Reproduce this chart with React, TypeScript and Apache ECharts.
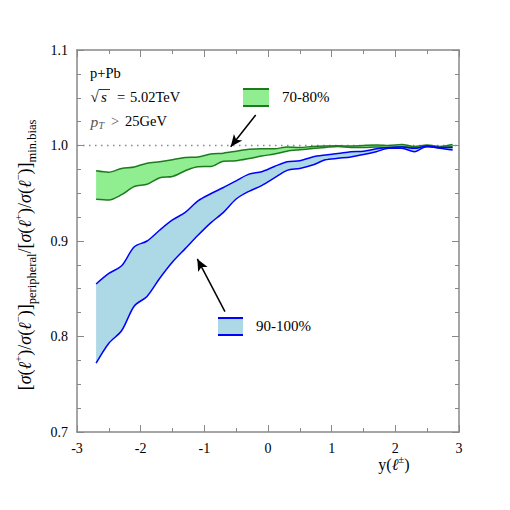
import React, { useEffect, useRef } from "react";
import * as echarts from "echarts";

const xs = [-2.7, -2.5, -2.3, -2.1, -1.9, -1.7, -1.5, -1.3, -1.1, -0.9, -0.7, -0.5, -0.3, -0.1, 0.1, 0.3, 0.5, 0.7, 0.9, 1.1, 1.3, 1.5, 1.7, 1.9, 2.1, 2.3, 2.5, 2.7, 2.9];

const green7080Upper = [0.9735, 0.972, 0.976, 0.9775, 0.9815, 0.983, 0.985, 0.9875, 0.988, 0.991, 0.992, 0.994, 0.996, 0.9965, 0.9965, 0.9985, 0.998, 0.999, 0.9995, 0.9997, 0.9995, 1.0, 1.0005, 1.0, 1.001, 0.999, 1.0005, 0.999, 1.001];
const green7080Lower = [0.9437, 0.943, 0.9485, 0.957, 0.9594, 0.9663, 0.9675, 0.9735, 0.9778, 0.978, 0.9835, 0.984, 0.9863, 0.989, 0.991, 0.994, 0.9955, 0.9968, 0.998, 0.999, 0.998, 0.998, 0.9985, 0.998, 0.999, 0.998, 0.9985, 0.998, 0.999];

const blue90100Upper = [0.855, 0.866, 0.874, 0.894, 0.9, 0.9115, 0.922, 0.93, 0.942, 0.9495, 0.956, 0.963, 0.97, 0.9725, 0.978, 0.983, 0.984, 0.988, 0.99, 0.9915, 0.9935, 0.994, 0.9965, 0.998, 0.9985, 0.997, 0.9995, 0.998, 0.998];
const blue90100Lower = [0.772, 0.793, 0.806, 0.832, 0.842, 0.861, 0.878, 0.892, 0.906, 0.919, 0.93, 0.944, 0.952, 0.958, 0.966, 0.974, 0.976, 0.9795, 0.985, 0.9866, 0.988, 0.9905, 0.9935, 0.997, 0.997, 0.9935, 0.9993, 0.997, 0.9953];

const referenceLine = [[-3, 1.0], [3, 1.0]];
const arrowGreen = [[-0.193, 1.0319], [-0.586, 0.9987]];
const arrowBlue = [[-0.676, 0.826], [-1.11, 0.8812]];

const xTicks = [-3, -2, -1, 0, 1, 2, 3];
const yTicks = [0.7, 0.8, 0.9, 1.0, 1.1];

const FONT = "Liberation Serif";
const AXIS_COLOR = "#888888";
const GREEN_LINE = "#1f7a1f";
const GREEN_FILL = "#90ee90";
const BLUE_LINE = "#0000ff";
const BLUE_FILL = "#add8e6";

// data items as [y, x] so that the first (stacked) dimension is the y value
function zipYX(x: number[], y: number[]) {
  return x.map((v, i) => [y[i], v]);
}

export default function App() {
  const ref = useRef<HTMLDivElement>(null);
  useEffect(() => {
    if (!ref.current) return;
    const chart = echarts.init(ref.current, null, { renderer: "svg" });

    const axisCommon = {
      type: "value" as const,
      axisLine: { show: true, onZero: false, lineStyle: { color: AXIS_COLOR, width: 1.5 } },
      axisTick: { show: true, inside: true, length: 7, lineStyle: { color: AXIS_COLOR, width: 1 } },
      splitLine: { show: false },
      minorSplitLine: { show: false },
    };

    const gDiff = green7080Upper.map((v, i) => v - green7080Lower[i]);
    const bDiff = blue90100Upper.map((v, i) => v - blue90100Lower[i]);

    const bandSeries = (name: string, stack: string, y: number[], color: string, fill: string | null, z: number) => {
      const s: any = {
        name,
        type: "line",
        stack,
        data: zipYX(xs, y),
        encode: { x: 1, y: 0 },
        symbol: "none",
        smooth: 0.3,
        z,
        lineStyle: { color, width: 1.5 },
      };
      if (fill) s.areaStyle = { color: fill, opacity: 1 };
      return s;
    };

    const txt = (text: string, x: number, y: number, size: number, extra: any = {}) => ({
      type: "text",
      x,
      y,
      style: { text, fontFamily: FONT, fontSize: size, fill: "#000", verticalAlign: "middle", ...extra },
    });

    const option: any = {
      animation: false,
      backgroundColor: "#ffffff",
      grid: { left: 77, top: 50, width: 382, height: 382, containLabel: false },
      xAxis: [
        {
          ...axisCommon,
          min: xTicks[0],
          max: xTicks[xTicks.length - 1],
          interval: 1,
          position: "bottom",
          minorTick: { show: true, splitNumber: 2, length: 4, lineStyle: { color: AXIS_COLOR, width: 1 } },
          axisLabel: {
            show: true,
            margin: 9,
            fontFamily: FONT,
            fontSize: 14,
            color: "#000",
            formatter: (v: number) => String(Math.round(v)),
          },
        },
        {
          ...axisCommon,
          min: xTicks[0],
          max: xTicks[xTicks.length - 1],
          interval: 1,
          position: "top",
          minorTick: { show: true, splitNumber: 2, length: 4, lineStyle: { color: AXIS_COLOR, width: 1 } },
          axisLabel: { show: false },
        },
      ],
      yAxis: [
        {
          ...axisCommon,
          min: yTicks[0],
          max: yTicks[yTicks.length - 1],
          interval: 0.1,
          position: "left",
          minorTick: { show: true, splitNumber: 4, length: 4, lineStyle: { color: AXIS_COLOR, width: 1 } },
          axisLabel: {
            show: true,
            margin: 9,
            fontFamily: FONT,
            fontSize: 14,
            color: "#000",
            formatter: (v: number) => v.toFixed(1),
          },
        },
        {
          ...axisCommon,
          min: yTicks[0],
          max: yTicks[yTicks.length - 1],
          interval: 0.1,
          position: "right",
          minorTick: { show: true, splitNumber: 4, length: 4, lineStyle: { color: AXIS_COLOR, width: 1 } },
          axisLabel: { show: false },
        },
      ],
      series: [
        {
          name: "ref",
          type: "line",
          data: referenceLine,
          symbol: "none",
          silent: true,
          z: 1,
          lineStyle: { color: AXIS_COLOR, width: 1.5, type: [1.5, 4.5] },
          markLine: {
            silent: true,
            symbol: ["none", "arrow"],
            symbolSize: [8, 12],
            label: { show: false },
            lineStyle: { color: "#000", width: 1.5, type: "solid" },
            data: [
              [{ coord: arrowGreen[0] }, { coord: arrowGreen[1] }],
              [{ coord: arrowBlue[0] }, { coord: arrowBlue[1] }],
            ],
          },
        },
        bandSeries("70-80% low", "green", green7080Lower, GREEN_LINE, null, 2),
        bandSeries("70-80%", "green", gDiff, GREEN_LINE, GREEN_FILL, 2),
        bandSeries("90-100% low", "blue", blue90100Lower, BLUE_LINE, null, 3),
        bandSeries("90-100%", "blue", bDiff, BLUE_LINE, BLUE_FILL, 3),
      ],
      graphic: [
        txt("p+Pb", 90, 73, 14.5),
        txt("√", 90.5, 97, 15),
        txt("s", 101, 97, 15, { fontStyle: "italic" }),
        {
          type: "line",
          shape: { x1: 98.5, y1: 89.5, x2: 110, y2: 89.5 },
          style: { stroke: "#000", lineWidth: 0.8 },
        },
        txt("=", 117, 97, 14.5),
        txt("5.02TeV", 130, 97, 14.5),
        txt("p", 90.5, 121, 15.5, { fontStyle: "italic", fill: "#555" }),
        txt("T", 98.5, 125.5, 10, { fontStyle: "italic", fill: "#555" }),
        txt(">", 111, 121, 14.5, { fill: "#555" }),
        txt("25GeV", 125, 121, 14.5),
        {
          type: "rect",
          shape: { x: 243, y: 88, width: 26, height: 19 },
          style: { fill: GREEN_FILL, stroke: "none" },
        },
        { type: "line", shape: { x1: 243, y1: 89, x2: 269, y2: 89 }, style: { stroke: GREEN_LINE, lineWidth: 2 } },
        { type: "line", shape: { x1: 243, y1: 106, x2: 269, y2: 106 }, style: { stroke: GREEN_LINE, lineWidth: 2 } },
        txt("70-80%", 282, 97, 15),
        {
          type: "rect",
          shape: { x: 218, y: 317, width: 25, height: 19 },
          style: { fill: BLUE_FILL, stroke: "none" },
        },
        { type: "line", shape: { x1: 218, y1: 318, x2: 243, y2: 318 }, style: { stroke: BLUE_LINE, lineWidth: 2 } },
        { type: "line", shape: { x1: 218, y1: 335, x2: 243, y2: 335 }, style: { stroke: BLUE_LINE, lineWidth: 2 } },
        txt("90-100%", 256, 326, 15),
        {
          type: "text",
          x: 394,
          y: 464,
          style: {
            text: "y({it|ℓ}{sup|±})",
            fontFamily: FONT,
            fontSize: 16,
            fill: "#000",
            align: "center",
            verticalAlign: "middle",
            lineHeight: 22,
            rich: {
              it: { fontFamily: FONT, fontSize: 16, fontStyle: "italic", fill: "#000", lineHeight: 22 },
              sup: { fontFamily: FONT, fontSize: 11, fill: "#000", verticalAlign: "top", lineHeight: 12 },
            },
          },
        },
        {
          type: "text",
          x: 25,
          y: 255,
          rotation: Math.PI / 2,
          style: {
            text:
              "[{it|σ}({it|ℓ}{sup|+})/{it|σ}({it|ℓ}{sup|−})]{sub|peripheral}/[{it|σ}({it|ℓ}{sup|+})/{it|σ}({it|ℓ}{sup|−})]{sub|min.bias}",
            fontFamily: FONT,
            fontSize: 18,
            fill: "#000",
            align: "center",
            verticalAlign: "middle",
            lineHeight: 26,
            rich: {
              it: { fontFamily: FONT, fontSize: 18, fontStyle: "italic", fill: "#000", lineHeight: 26 },
              sup: { fontFamily: FONT, fontSize: 11, fill: "#000", verticalAlign: "top", lineHeight: 13 },
              sub: { fontFamily: FONT, fontSize: 12.5, fill: "#000", verticalAlign: "bottom", lineHeight: 13 },
            },
          },
        },
      ],
    };

    chart.setOption(option);
    return () => chart.dispose();
  }, []);

  return (
    <div
      ref={ref}
      style={{ position: "fixed", left: 0, top: 0, width: 510, height: 510, background: "#fff" }}
    />
  );
}
